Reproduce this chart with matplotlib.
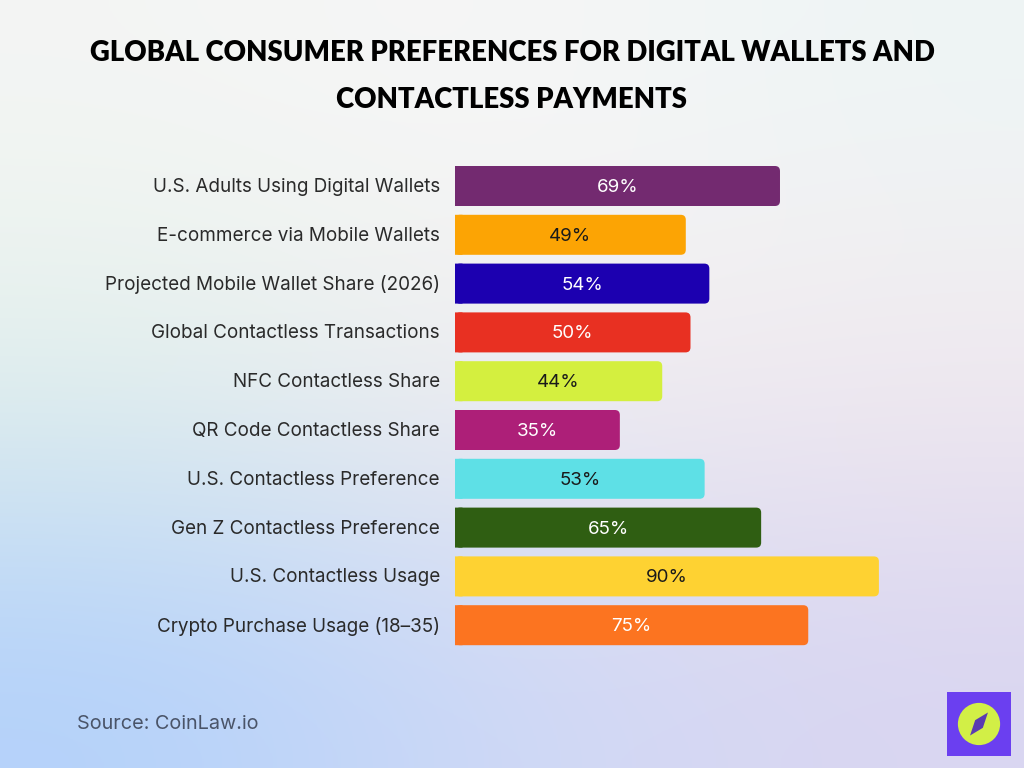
"""Horizontal bar chart: consumer preferences for digital wallets / contactless payments."""

import matplotlib
matplotlib.use("Agg")
import matplotlib.pyplot as plt
from matplotlib.patches import FancyBboxPatch, Rectangle, Circle, Polygon
import numpy as np

plt.rcParams['font.family'] = ['Inter', 'DejaVu Sans']

categories = [
    "U.S. Adults Using Digital Wallets",
    "E-commerce via Mobile Wallets",
    "Projected Mobile Wallet Share (2026)",
    "Global Contactless Transactions",
    "NFC Contactless Share",
    "QR Code Contactless Share",
    "U.S. Contactless Preference",
    "Gen Z Contactless Preference",
    "U.S. Contactless Usage",
    "Crypto Purchase Usage (18\u201335)",
]
values = [69, 49, 54, 50, 44, 35, 53, 65, 90, 75]
bar_colors = ["#732a70", "#fca404", "#1c00b0", "#e83022", "#d4ef3f",
              "#ad1f78", "#5ee0e6", "#2f5e12", "#fed232", "#fc7420"]
text_colors = ["white", "#1a1a1a", "white", "white", "#1a1a1a",
               "white", "#1a1a1a", "white", "#1a1a1a", "white"]

title = "GLOBAL CONSUMER PREFERENCES FOR DIGITAL WALLETS AND\nCONTACTLESS PAYMENTS"
source = "Source: CoinLaw.io"

W, H = 1024, 768
fig = plt.figure(figsize=(W / 100, H / 100), dpi=100)

# background gradient
bg = fig.add_axes([0, 0, 1, 1], zorder=0)
grid = np.array([
    [[0xf4, 0xf5, 0xf4], [0xf7, 0xf7, 0xf7], [0xee, 0xf5, 0xf5]],
    [[0xe2, 0xf1, 0xea], [0xf3, 0xee, 0xf0], [0xf2, 0xe9, 0xee]],
    [[0xb3, 0xd1, 0xfb], [0xcf, 0xd9, 0xf6], [0xd9, 0xd5, 0xf1]],
]) / 255.0
bg.imshow(grid, aspect='auto', interpolation='bicubic', extent=[0, 1, 0, 1])
bg.set_xlim(0, 1)
bg.set_ylim(0, 1)
bg.axis('off')

# bar axes: x 0..100 maps to 455px..926px, rows centred 186..625px
x0_px, px_per_unit = 455, 4.71
top_px, pitch = 186 - 24.4, 48.8
ax = fig.add_axes([x0_px / W, 1 - (top_px + 10 * pitch) / H,
                   100 * px_per_unit / W, 10 * pitch / H], zorder=1)
ax.set_xlim(0, 100)
ax.set_ylim(9.5, -0.5)
ax.axis('off')

bh = 40 / pitch
r = 5 / px_per_unit
aspect = (1 / pitch) / (1 / px_per_unit)
for i, (v, c, tc) in enumerate(zip(values, bar_colors, text_colors)):
    ax.add_patch(FancyBboxPatch((0, i - bh / 2), v, bh,
                                boxstyle=f"round,pad=0,rounding_size={r}",
                                mutation_aspect=aspect, fc=c, ec='none',
                                snap=False))
    # square off the left end
    ax.add_patch(Rectangle((0, i - bh / 2), 1.5 * r, bh, fc=c, ec='none',
                           snap=False))
    ax.text(v / 2, i + 0.03, f"{v}%", ha='center', va='center', fontsize=13.5,
            color=tc)
    ax.text(-3.2, i + 0.02, categories[i], ha='right', va='center',
            fontsize=13.6, color='#2a2a2a')

fig.text(0.5, 0.901, title, ha='center', va='center', fontsize=19.8,
         fontweight='heavy', linespacing=2.0,
         family=['Lato', 'DejaVu Sans'], color='black')

fig.text(77 / W, 1 - 724 / H, source, ha='left', va='center', fontsize=14.3,
         color='#4a5468')

# logo
lg = fig.add_axes([947 / W, 1 - 756 / H, 64 / W, 64 / H], zorder=2)
lg.set_xlim(0, 1)
lg.set_ylim(0, 1)
lg.axis('off')
lg.add_patch(Rectangle((0, 0), 1, 1, fc='#6b3ff0', ec='none'))
lg.add_patch(Circle((0.5, 0.5), 0.33, fc='#d2ef46', ec='none'))
lg.add_patch(Polygon([(0.64, 0.68), (0.56, 0.44), (0.36, 0.32), (0.44, 0.56)],
                     closed=True, fc='#5a3bb0', ec='none'))

fig.savefig("out.png", dpi=100)
